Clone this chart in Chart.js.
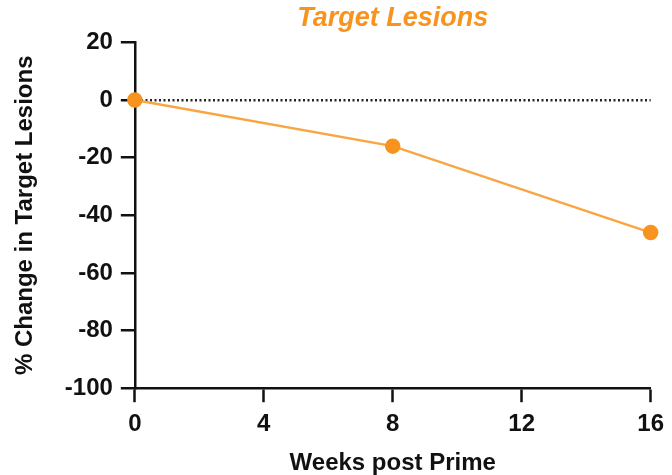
<!DOCTYPE html>
<html>
<head>
<meta charset="utf-8">
<script src="https://cdn.jsdelivr.net/npm/chart.js@4"></script>
<style>
  html, body { margin: 0; padding: 0; background: #fff; }
  #wrap { width: 672px; height: 475px; }
</style>
</head>
<body>
<div id="wrap"><canvas id="chart"></canvas></div>
<script>
const weeks = [0, 8, 16]
const pctChange = [0, -16, -46]
const xTicks = [0, 4, 8, 12, 16]
const yTicks = [20, 0, -20, -40, -60, -80, -100]

const orange = '#f7931e'
const lineOrange = '#f9a542'
const font = 'Liberation Sans, Arial, sans-serif'

const canvas = document.getElementById('chart')

const chart = new Chart(canvas, {
  type: 'scatter',
  data: {
    datasets: [
      {
        label: 'Target Lesions',
        data: weeks.map((w, i) => ({ x: w, y: pctChange[i] })),
        showLine: true,
        clip: false,
        borderColor: lineOrange,
        borderWidth: 2.5,
        backgroundColor: orange,
        pointBackgroundColor: orange,
        pointBorderColor: orange,
        pointRadius: 6.5,
        tension: 0,
      },
    ],
  },
  options: {
    responsive: true,
    maintainAspectRatio: false,
    animation: false,
    layout: { padding: { left: 4, right: 6, top: 2, bottom: 0 } },
    scales: {
      x: {
        type: 'linear',
        min: 0,
        max: 16,
        afterBuildTicks: (axis) => {
          axis.ticks = xTicks.map((v) => ({ value: v }))
        },
        ticks: {
          color: '#111',
          font: { family: font, size: 24, weight: 'bold' },
          padding: 8,
          maxRotation: 0,
        },
        grid: {
          drawOnChartArea: false,
          drawTicks: true,
          tickLength: 14,
          tickColor: '#111',
          tickWidth: 2.5,
        },
        border: { display: true, color: '#111', width: 2.5 },
        title: {
          display: true,
          text: 'Weeks post Prime',
          color: '#111',
          font: { family: font, size: 24, weight: 'bold', lineHeight: 1 },
          padding: { top: 4, bottom: 0 },
        },
      },
      y: {
        min: -100,
        max: 20,
        afterBuildTicks: (axis) => {
          axis.ticks = yTicks.map((v) => ({ value: v }))
        },
        ticks: {
          color: '#111',
          font: { family: font, size: 24, weight: 'bold' },
          padding: 8,
        },
        grid: {
          color: (ctx) => (ctx.tick && ctx.tick.value === 0 ? '#222' : 'rgba(0,0,0,0)'),
          lineWidth: 2.5,
          drawTicks: true,
          tickLength: 14,
          tickColor: '#111',
          tickWidth: 2.5,
        },
        border: { display: true, color: '#111', width: 2.5, dash: [2, 2.5] },
        title: {
          display: true,
          text: '% Change in Target Lesions',
          color: '#111',
          font: { family: font, size: 24, weight: 'bold' },
          padding: { top: 7, bottom: 17 },
        },
      },
    },
    plugins: {
      legend: { display: false },
      tooltip: { enabled: false },
      title: {
        display: true,
        text: 'Target Lesions',
        fullSize: false,
        color: orange,
        font: { family: font, size: 27, weight: 'bold', style: 'italic' },
        padding: { top: 0, bottom: 8 },
      },
    },
  },
})
</script>
</body>
</html>
